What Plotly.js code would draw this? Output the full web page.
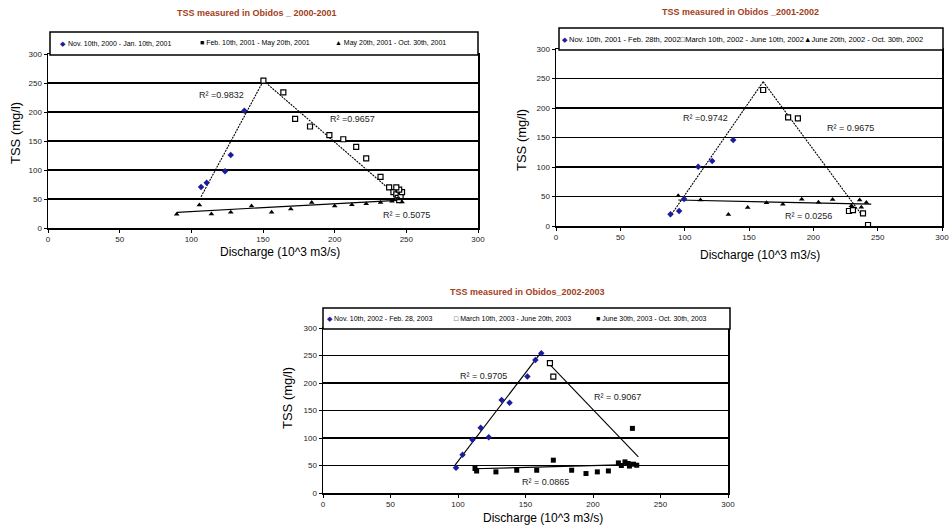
<!DOCTYPE html>
<html><head><meta charset="utf-8">
<script src="https://cdn.plot.ly/plotly-3.0.1.min.js"></script>
<style>html,body{margin:0;padding:0;background:#fff}</style>
</head><body><div id="chart" style="width:952px;height:532px"></div>
<script>
// ---------- Chart 1: 2000-2001 ----------
const c1_title = "TSS measured in Obidos _ 2000-2001";
const c1_names = ["Nov. 10th, 2000 - Jan. 10th, 2001", "Feb. 10th, 2001 - May 20th, 2001", "May 20th, 2001 - Oct. 30th, 2001"];
const c1_s1_x = [106.8, 110.7, 123.5, 127.5, 137.0];
const c1_s1_y = [70.7, 78, 98, 126, 202];
const c1_s2_x = [150.3, 164.2, 172.4, 182.8, 196.3, 206, 215, 222, 232, 238, 241, 243, 244, 245, 246, 247, 245, 243];
const c1_s2_y = [254, 234, 188, 175, 160, 153, 140, 120, 88, 70, 62, 58, 52, 48, 55, 62, 66, 70];
const c1_s3_x = [89.8, 105.6, 114, 127.5, 142, 156, 169.4, 184, 200, 212, 222, 232, 240, 245, 247];
const c1_s3_y = [23.6, 39.7, 24, 27, 38, 27, 32.8, 44, 38, 40, 42, 44, 46, 50, 45];
const c1_t1_x = [106.8, 150.3], c1_t1_y = [54, 254];
const c1_t2_x = [150.3, 247], c1_t2_y = [254, 48];
const c1_t3_x = [90, 247], c1_t3_y = [27, 48];
const c1_r2 = ["R² =0.9832", "R² =0.9657", "R² = 0.5075"];
const c1_r2_x = [104, 195, 232], c1_r2_y = [229, 188, 22];

// ---------- Chart 2: 2001-2002 ----------
const c2_title = "TSS measured in Obidos _2001-2002";
const c2_names = ["Nov. 10th, 2001 - Feb. 28th, 2002", "March 10th, 2002 - June 10th, 2002", "June 20th, 2002 - Oct. 30th, 2002"];
const c2_s1_x = [89, 95.7, 99.6, 110.5, 121.4, 137.7];
const c2_s1_y = [19.8, 25.4, 45.8, 100.5, 110, 145.8];
const c2_s2_x = [161, 180.4, 188, 227.7, 230.8, 238.6, 242.5];
const c2_s2_y = [230.5, 184, 182.5, 25.4, 27, 21.5, 1.7];
const c2_s3_x = [95, 112.3, 134, 149, 163.6, 176.3, 191, 204, 215, 229.6, 236, 237.3, 241.2];
const c2_s3_y = [51.4, 44, 19.5, 31.3, 39.5, 36.7, 45.2, 40.1, 45.1, 34.4, 44, 31.6, 40];
const c2_t1_x = [88.5, 161], c2_t1_y = [15.7, 244.6];
const c2_t2_x = [161, 238.6], c2_t2_y = [244.6, 15.8];
const c2_t3_x = [95, 245], c2_t3_y = [44, 37];
const c2_r2 = ["R² =0.9742", "R² = 0.9675", "R² = 0.0256"];
const c2_r2_x = [97.5, 209, 176.5], c2_r2_y = [182.5, 166.6, 17.5];

// ---------- Chart 3: 2002-2003 ----------
const c3_title = "TSS measured in Obidos_2002-2003";
const c3_names = ["Nov. 10th, 2002 - Feb. 28, 2003", "March 10th, 2003 - June 20th, 2003", "June 30th, 2003 - Oct. 30th, 2003"];
const c3_s1_x = [98.5, 103.4, 110.7, 116.8, 122.8, 132.3, 138.2, 151.4, 157.3, 161.7];
const c3_s1_y = [46, 69.4, 96.8, 118.8, 101.5, 169, 164, 211.7, 242, 254];
const c3_s2_x = [168.1, 170.6];
const c3_s2_y = [236, 211.7];
const c3_s3_x = [112.6, 113.8, 128.1, 143.5, 158.3, 170.6, 184.2, 194.8, 203.2, 211.4, 218.8, 223.7, 226.2, 229.2, 230, 232.4, 221, 227];
const c3_s3_y = [44.5, 40, 38.4, 41.4, 41.4, 59.7, 41.4, 35.4, 38.4, 40.1, 54.7, 56.6, 53.6, 117.5, 52.4, 50.5, 50, 49];
const c3_t1_x = [97.8, 162], c3_t1_y = [50.7, 257];
const c3_t2_x = [167, 233.6], c3_t2_y = [236, 65.7];
const c3_t3_x = [112, 233], c3_t3_y = [44, 52];
const c3_r2 = ["R² = 0.9705", "R² = 0.9067", "R² = 0.0865"];
const c3_r2_x = [100, 199, 146], c3_r2_y = [213, 174, 20];

// shared axis ticks
const tickVals = [0, 50, 100, 150, 200, 250, 300];

const W = 952, H = 532;
const px = v => v / W, py = v => 1 - v / H;
const FONT = "Liberation Sans, Arial, sans-serif";
const BLUE = "#1c1ca0";
const TITLE_C = "#a3401c";

// plot area boxes in pixels [left, right, top(300), bottom(0)]
const boxes = [[48, 478, 54, 228], [556, 942, 49, 226], [323, 728, 328, 493]];

function mk(x, y, ax, sym, color, open) {
  return {x: x, y: y, xaxis: ax[0], yaxis: ax[1], mode: "markers", showlegend: false, hoverinfo: "skip",
    marker: {symbol: sym, size: 5, color: open ? "#fff" : color, line: {color: color, width: open ? 1.2 : 0}}};
}
function tl(x, y, ax, dash) {
  return {x: x, y: y, xaxis: ax[0], yaxis: ax[1], mode: "lines", showlegend: false, hoverinfo: "skip",
    line: {color: "#000", width: 1.1, dash: dash}};
}

const A1 = ["x", "y"], A2 = ["x2", "y2"], A3 = ["x3", "y3"];
const DOT = "2px,1px";
const traces = [
  tl(c1_t1_x, c1_t1_y, A1, DOT), tl(c1_t2_x, c1_t2_y, A1, DOT), tl(c1_t3_x, c1_t3_y, A1, "solid"),
  mk(c1_s1_x, c1_s1_y, A1, "diamond", BLUE, false),
  mk(c1_s2_x, c1_s2_y, A1, "square", "#000", true),
  mk(c1_s3_x, c1_s3_y, A1, "triangle-up", "#000", false),
  tl(c2_t1_x, c2_t1_y, A2, DOT), tl(c2_t2_x, c2_t2_y, A2, DOT), tl(c2_t3_x, c2_t3_y, A2, "solid"),
  mk(c2_s1_x, c2_s1_y, A2, "diamond", BLUE, false),
  mk(c2_s2_x, c2_s2_y, A2, "square", "#000", true),
  mk(c2_s3_x, c2_s3_y, A2, "triangle-up", "#000", false),
  tl(c3_t1_x, c3_t1_y, A3, "solid"), tl(c3_t2_x, c3_t2_y, A3, "solid"), tl(c3_t3_x, c3_t3_y, A3, "solid"),
  mk(c3_s1_x, c3_s1_y, A3, "diamond", BLUE, false),
  mk(c3_s2_x, c3_s2_y, A3, "square", "#000", true),
  mk(c3_s3_x, c3_s3_y, A3, "square", "#000", false)
];

function xax(b, anchor) {
  return {domain: [px(b[0]), px(b[1])], anchor: anchor, range: [0, 300], tickvals: tickVals,
    ticks: "outside", ticklen: 3, tickcolor: "#000", tickwidth: 1, showline: true, linecolor: "#000", linewidth: 1.5,
    mirror: true, showgrid: false, zeroline: false, tickfont: {family: FONT, size: 8, color: "#222"}, fixedrange: true};
}
function yax(b, anchor) {
  return {domain: [py(b[3]), py(b[2])], anchor: anchor, range: [0, 300], tickvals: tickVals,
    ticks: "outside", ticklen: 3, tickcolor: "#000", tickwidth: 1, showline: true, linecolor: "#000", linewidth: 1.5,
    mirror: true, showgrid: true, gridcolor: "#000", gridwidth: 1.5, zeroline: false,
    tickfont: {family: FONT, size: 8, color: "#222"}, fixedrange: true};
}

const ann = [];
const shapes = [];
function txt(x, y, t, o) {
  ann.push(Object.assign({xref: "paper", yref: "paper", x: px(x), y: py(y), text: t, showarrow: false,
    font: {family: FONT, size: 12, color: "#000"}, xanchor: "center", yanchor: "middle"}, o || {}));
}
// titles
txt(257, 13, c1_title, {font: {family: FONT, size: 9, color: TITLE_C, weight: "bold"}});
txt(740, 12, c2_title, {font: {family: FONT, size: 9, color: TITLE_C, weight: "bold"}});
txt(527, 292, c3_title, {font: {family: FONT, size: 9, color: TITLE_C, weight: "bold"}});
// axis titles
const xt = "Discharge (10^3 m3/s)", yt = "TSS (mg/l)";
txt(280, 252, xt); txt(760, 255, xt); txt(543, 518, xt);
txt(15, 133, yt, {textangle: -90, font: {family: FONT, size: 13, color: "#000"}});
txt(522, 140, yt, {textangle: -90, font: {family: FONT, size: 13, color: "#000"}});
txt(287, 398, yt, {textangle: -90, font: {family: FONT, size: 13, color: "#000"}});

// legends
function box(x0, x1, y0, y1) {
  shapes.push({type: "rect", xref: "paper", yref: "paper", x0: px(x0), x1: px(x1), y0: py(y1), y1: py(y0),
    line: {color: "#000", width: 1.5}, fillcolor: "#fff", layer: "above"});
}
const LF = {family: FONT, size: 7, color: "#000"};
const LFB = {family: FONT, size: 7, color: BLUE};
const mS = '□', mF = '■', mT = '▲', mD = '◆';
box(50, 478, 32, 55);
txt(58, 43.5, mD, {xanchor: "left", font: LFB});
txt(66, 43.5, c1_names[0], {xanchor: "left", font: LF});
txt(198, 43.5, mF + " " + c1_names[1], {xanchor: "left", font: LF});
txt(333, 43.5, mT + " " + c1_names[2], {xanchor: "left", font: LF});
box(559, 943, 28, 50);
txt(560, 39, mD, {xanchor: "left", font: LFB});
txt(567, 39, c2_names[0] + mS + c2_names[1] + mT + c2_names[2], {xanchor: "left", font: {family: FONT, size: 7.5, color: "#000"}});
box(323, 730, 308, 329);
txt(325, 318.5, mD, {xanchor: "left", font: LFB});
txt(332, 318.5, c3_names[0], {xanchor: "left", font: LF});
txt(452, 318.5, mS + " " + c3_names[1], {xanchor: "left", font: LF});
txt(594, 318.5, mF + " " + c3_names[2], {xanchor: "left", font: LF});

// R^2 labels in data coordinates
function r2(ax, xs, ys, vals) {
  for (let i = 0; i < vals.length; i++) {
    ann.push({xref: ax[0], yref: ax[1], x: xs[i], y: ys[i], text: vals[i], showarrow: false,
      xanchor: "left", yanchor: "middle", font: {family: FONT, size: 9, color: "#222"}});
  }
}
r2(A1, c1_r2_x, c1_r2_y, c1_r2);
r2(A2, c2_r2_x, c2_r2_y, c2_r2);
r2(A3, c3_r2_x, c3_r2_y, c3_r2);

const layout = {
  width: W, height: H, margin: {l: 0, r: 0, t: 0, b: 0}, paper_bgcolor: "#fff", plot_bgcolor: "#fff",
  showlegend: false, font: {family: FONT},
  xaxis: xax(boxes[0], "y"), yaxis: yax(boxes[0], "x"),
  xaxis2: xax(boxes[1], "y2"), yaxis2: yax(boxes[1], "x2"),
  xaxis3: xax(boxes[2], "y3"), yaxis3: yax(boxes[2], "x3"),
  annotations: ann, shapes: shapes
};
Plotly.newPlot("chart", traces, layout, {displayModeBar: false, staticPlot: true});
</script>
</body></html>
